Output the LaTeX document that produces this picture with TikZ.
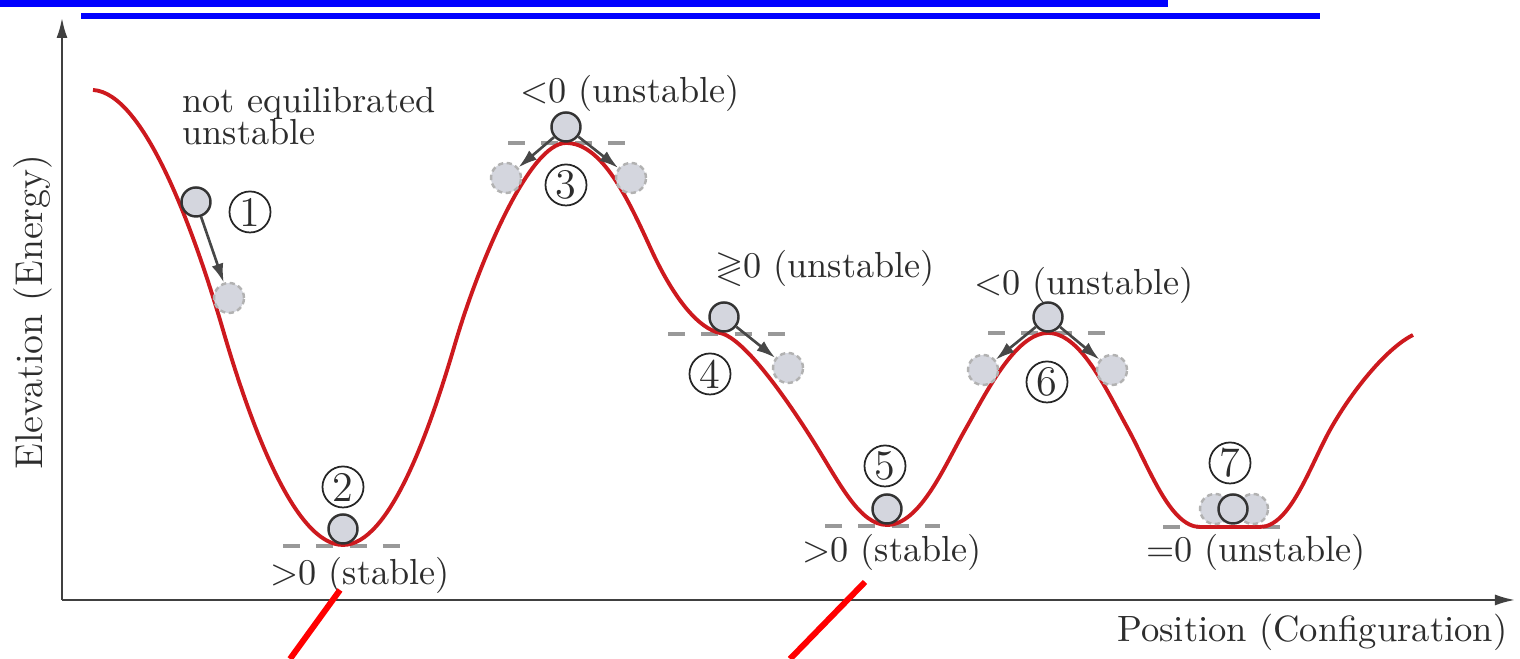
\documentclass[tikz,border=0pt]{standalone}
\usepackage{fontspec}
\usepackage{amssymb}
\usetikzlibrary{arrows.meta}
\definecolor{curvered}{RGB}{205,25,30}
\definecolor{ballfill}{RGB}{212,214,222}
\definecolor{txtgray}{RGB}{45,45,45}

\begin{document}
\begin{tikzpicture}[x=0.01cm,y=0.01cm,
  ball/.style={circle,draw=black!80,fill=ballfill,line width=0.7pt,minimum size=0.29cm,inner sep=0pt},
  ghost/.style={circle,draw=black!30,dash pattern=on 1.5pt off 1pt,fill=ballfill,line width=0.7pt,minimum size=0.3cm,inner sep=0pt},
  num/.style={circle,draw=black!85,line width=0.5pt,minimum size=0.41cm,inner sep=0pt,text=txtgray,font=\fontsize{12}{12}\selectfont},
  push/.style={-{Latex[length=0.19cm,width=0.12cm]},black!72,line width=0.75pt},
  level/.style={black!40,line width=0.9pt,dash pattern=on 0.17cm off 0.163cm},
  lbl/.style={text=txtgray,font=\fontsize{10.3}{9.2}\selectfont,inner sep=0pt},
  axis/.style={-{Latex[length=0.2cm,width=0.11cm]},black!75,line width=0.6pt}]
  \useasboundingbox (0,0) rectangle (1520,659);

  % header bars
  \fill[blue] (0,659) rectangle (1168,652);
  \fill[blue] (81,646) rectangle (1320,640);

  % axes
  \coordinate (o) at (62,59);
  \coordinate (ytip) at (62,641);
  \coordinate (xtip) at (1515,59);
  \draw[axis] (o) -- (ytip);
  \draw[axis] (o) -- (xtip);
  \node[lbl,font=\fontsize{11}{13}\selectfont,rotate=90] (ylab) at (33,347) {Elevation (Energy)};
  \node[lbl,font=\fontsize{10.4}{13}\selectfont,anchor=base east] (xlab) at (1508,17) {Position (Configuration)};

  % reference levels
  \draw[level] (283,113) -- (402,113);
  \draw[level] (508,516) -- (626,516);
  \draw[level] (668,325) -- (786,325);
  \draw[level] (825,133) -- (940,133);
  \draw[level] (988,326) -- (1105,326);
  \draw[level] (1163,132) -- (1280,132);

  % energy landscape
  \draw[curvered,line width=1.1pt]
    (93,569) .. controls (145,566) and (195,425) .. (223,329)
    .. controls (251,233) and (295,114) .. (343,114)
    .. controls (390,114) and (430,230) .. (455,315)
    .. controls (480,400) and (530,516) .. (566,516)
    .. controls (602,516) and (628,460) .. (650,412)
    .. controls (675,357) and (700,330) .. (720,326)
    .. controls (745,321) and (790,255) .. (815,215)
    .. controls (840,175) and (860,134) .. (887,134)
    .. controls (920,134) and (945,194) .. (965,229)
    .. controls (985,264) and (1015,326) .. (1048,326)
    .. controls (1080,326) and (1105,272) .. (1127,232)
    .. controls (1149,192) and (1170,132) .. (1200,132)
    -- (1260,132)
    .. controls (1290,132) and (1310,193) .. (1330,229)
    .. controls (1350,265) and (1385,310) .. (1413,324);

  % 1: not equilibrated
  \node[ghost] (g1) at (229,361) {};
  \node[ball] (b1) at (196,457) {};
  \draw[push] (b1) -- (g1);
  \node[num] (n1) at (250,447) {1};
  \node[lbl,anchor=base west,align=left] (t1) at (182,514) {not equilibrated\\unstable};

  % 2: valley
  \node[ball] (b2) at (343,130) {};
  \node[num] (n2) at (343,172) {2};
  \node[lbl,anchor=base] (t2) at (360,74) {>0 (stable)};

  % 3: peak
  \node[ghost] (g3l) at (506,481) {};
  \node[ghost] (g3r) at (631,481) {};
  \node[ball] (b3) at (566,532) {};
  \draw[push] (b3) -- (g3l);
  \draw[push] (b3) -- (g3r);
  \node[num] (n3) at (566,474) {3};
  \node[lbl,anchor=base] (t3) at (630,556) {<0 (unstable)};

  % 4: shoulder
  \node[ghost] (g4) at (788,291) {};
  \node[ball] (b4) at (724,342) {};
  \draw[push] (b4) -- (g4);
  \node[num] (n4) at (710,285) {4};
  \node[lbl,anchor=base] (t4) at (825,381) {$\gtrless$0 (unstable)};

  % 5: valley
  \node[ball] (b5) at (887,150) {};
  \node[num] (n5) at (885,193) {5};
  \node[lbl,anchor=base] (t5) at (892,97) {>0 (stable)};

  % 6: peak
  \node[ghost] (g6l) at (983,289) {};
  \node[ghost] (g6r) at (1112,289) {};
  \node[ball] (b6) at (1048,342) {};
  \draw[push] (b6) -- (g6l);
  \draw[push] (b6) -- (g6r);
  \node[num] (n6) at (1047,277) {6};
  \node[lbl,anchor=base] (t6) at (1084,364) {<0 (unstable)};

  % 7: flat bottom
  \node[ghost] (g7l) at (1215,150) {};
  \node[ghost] (g7r) at (1253,150) {};
  \node[ball] (b7) at (1233,150) {};
  \node[num] (n7) at (1230,196) {7};
  \node[lbl,anchor=base] (t7) at (1256,97) {=0 (unstable)};

  % red markers
  \draw[red,line width=1.7pt] (340,69) -- (290,0);
  \draw[red,line width=1.7pt] (865,77) -- (790,0);
\end{tikzpicture}
\end{document}
